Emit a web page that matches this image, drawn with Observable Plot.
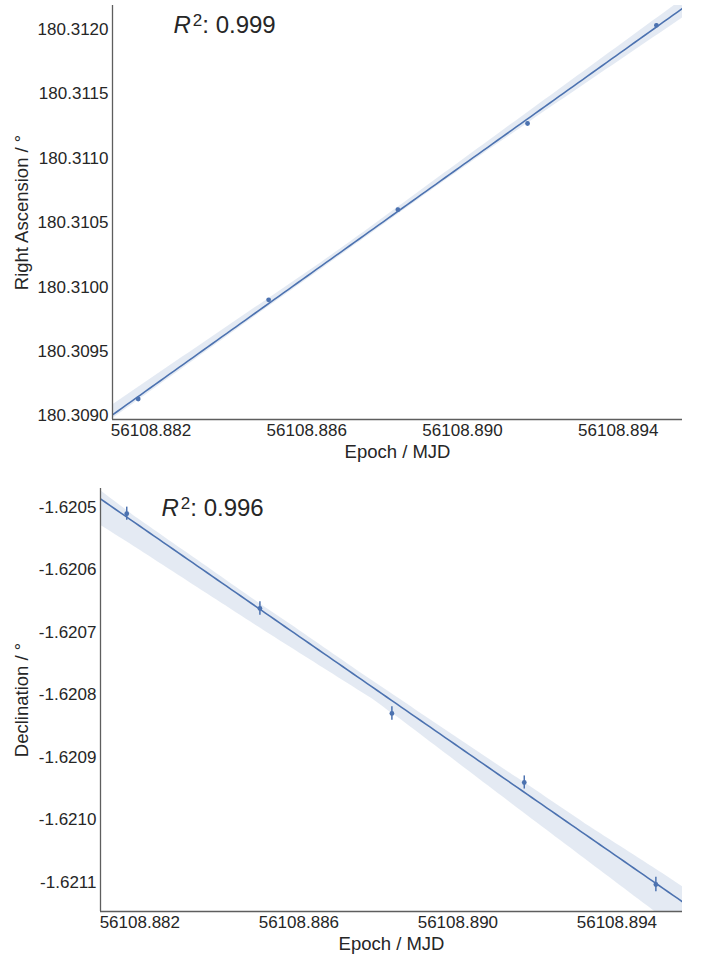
<!DOCTYPE html>
<html><head><meta charset="utf-8">
<script src="https://cdn.jsdelivr.net/npm/d3@7"></script>
<script src="https://cdn.jsdelivr.net/npm/@observablehq/plot@0.6"></script>
<style>
body{margin:0;background:#fff;}
#chart{width:703px;}
#chart svg{display:block;}
</style></head><body><div id="chart"></div>
<script>
// ---- data ----
const epochs = [56108.88167, 56108.88502, 56108.88834, 56108.89167, 56108.89498];
const raValues = [180.309132, 180.309902, 180.310602, 180.311271, 180.312033];
const raErrors = [0.0000105, 0.0000105, 0.0000105, 0.0000105, 0.0000105];
const decValues = [-1.6205100, -1.6206616, -1.6208296, -1.6209400, -1.6211032];
const decErrors = [0.0000105, 0.0000107, 0.0000107, 0.0000105, 0.0000115];
const epochTicks = [56108.882, 56108.886, 56108.890, 56108.894];
const epochDomain = [56108.88101, 56108.89565];
const raTicks = [180.3090, 180.3095, 180.3100, 180.3105, 180.3110, 180.3115, 180.3120];
const raDomain = [180.308973, 180.312187];
const decTicks = [-1.6211, -1.6210, -1.6209, -1.6208, -1.6207, -1.6206, -1.6205];
const decDomain = [-1.6211464, -1.6204697];
const r2Labels = ["0.999", "0.996"];
const xTitle = "Epoch / MJD";
const yTitles = ["Right Ascension / °", "Declination / °"];

const BLUE = "#4c72b0";
const INK = "#262626";
const SPINE = "#5e5e5e";
const FONT = "'Liberation Sans', Arial, Helvetica, sans-serif";

// regression fit and exhaustive bootstrap 95% band (as seaborn's regplot)
function fitLine(xs, ys, grid) {
  const x0 = xs[0], y0 = ys[0];
  const X = xs.map(x => x - x0), Y = ys.map(y => y - y0);
  const mx = d3.mean(X), my = d3.mean(Y);
  let sxx = 0, sxy = 0;
  X.forEach((x, i) => { sxx += (x - mx) ** 2; sxy += (x - mx) * (Y[i] - my); });
  const b = sxy / sxx;
  return grid.map(g => ({x: g, y: y0 + my + b * (g - x0 - mx)}));
}
function bootBand(xs, ys, grid) {
  const n = xs.length, x0 = xs[0], y0 = ys[0];
  const X = xs.map(x => x - x0), Y = ys.map(y => y - y0);
  const G = grid.map(g => g - x0);
  const total = n ** n;
  const preds = G.map(() => new Float64Array(total));
  const idx = new Array(n);
  for (let k = 0; k < total; k++) {
    let r = k, sx = 0, sy = 0;
    for (let i = 0; i < n; i++) { idx[i] = r % n; r = Math.floor(r / n); sx += X[idx[i]]; sy += Y[idx[i]]; }
    const mx = sx / n, my = sy / n;
    let sxx = 0, sxy = 0;
    for (let i = 0; i < n; i++) { const dx = X[idx[i]] - mx; sxx += dx * dx; sxy += dx * (Y[idx[i]] - my); }
    const b = sxx > 1e-14 ? sxy / sxx : 0;
    for (let j = 0; j < G.length; j++) preds[j][k] = my + b * (G[j] - mx);
  }
  return grid.map((g, j) => {
    const s = Array.from(preds[j]).sort((a, b) => a - b);
    return {x: g, lo: y0 + d3.quantileSorted(s, 0.025), hi: y0 + d3.quantileSorted(s, 0.975)};
  });
}

function r2Tspans(svg) {
  const ns = "http://www.w3.org/2000/svg";
  svg.querySelectorAll("text").forEach(t => {
    if (t.textContent.startsWith("R2:")) {
      const rest = t.textContent.slice(2);
      t.textContent = "";
      const a = document.createElementNS(ns, "tspan");
      a.setAttribute("font-style", "italic"); a.textContent = "R";
      const b = document.createElementNS(ns, "tspan");
      b.setAttribute("font-size", "17px"); b.setAttribute("dy", "-7"); b.setAttribute("dx", "2");
      b.textContent = "2";
      const c = document.createElementNS(ns, "tspan");
      c.setAttribute("dy", "7"); c.textContent = rest;
      t.append(a, b, c);
    }
  });
}

function panel({values, errors, yDomain, yTicks, yTitle, r2, height, marginTop, marginBottom, marginLeft}) {
  const pts = epochs.map((x, i) => ({x, y: values[i], e: errors[i]}));
  const grid = d3.range(0, 121).map(i => epochDomain[0] + i * (epochDomain[1] - epochDomain[0]) / 120);
  const band = bootBand(epochs, values, grid);
  const fit = fitLine(epochs, values, grid);
  const svg = Plot.plot({
    width: 703, height, marginTop, marginBottom, marginLeft, marginRight: 21,
    style: {fontFamily: FONT, color: INK, background: "#fff"},
    x: {domain: epochDomain, axis: null},
    y: {domain: yDomain, axis: null},
    marks: [
      Plot.areaY(band, {x: "x", y1: "lo", y2: "hi", fill: BLUE, fillOpacity: 0.15, clip: true}),
      Plot.line(fit, {x: "x", y: "y", stroke: BLUE, strokeWidth: 1.6, clip: true}),
      Plot.ruleX(pts, {x: "x", y1: d => d.y - d.e, y2: d => d.y + d.e, stroke: BLUE, strokeWidth: 1.5}),
      Plot.dot(pts, {x: "x", y: "y", r: 2.4, fill: BLUE}),
      Plot.ruleX([epochDomain[0]], {stroke: SPINE, strokeWidth: 1.3}),
      Plot.ruleY([yDomain[0]], {stroke: SPINE, strokeWidth: 1.3}),
      Plot.axisY({ticks: yTicks, tickFormat: d => d.toFixed(4), tickSize: 0, tickPadding: 4,
        fill: INK, fontSize: 17, label: null}),
      Plot.axisX({ticks: epochTicks, tickFormat: d => d.toFixed(3), tickSize: 0, tickPadding: 4,
        fill: INK, fontSize: 17, label: null}),
      Plot.text([yTitle], {frameAnchor: "left", text: d => d, rotate: -90, dx: -(marginLeft - 22),
        textAnchor: "middle", lineAnchor: "middle", fontSize: 18.5, fill: INK}),
      Plot.text([xTitle], {frameAnchor: "bottom", text: d => d, dy: 33, textAnchor: "middle",
        lineAnchor: "middle", fontSize: 18.5, fill: INK}),
      Plot.text([r2], {frameAnchor: "top-left", text: d => "R2: " + d, dx: 61, dy: 27,
        lineAnchor: "bottom", textAnchor: "start", fontSize: 24, fill: INK})
    ]
  });
  r2Tspans(svg);
  return svg;
}

const chart = document.getElementById("chart");
chart.append(panel({values: raValues, errors: raErrors, yDomain: raDomain, yTicks: raTicks,
  yTitle: yTitles[0], r2: r2Labels[0], height: 470, marginTop: 5, marginBottom: 51, marginLeft: 112}));
chart.append(panel({values: decValues, errors: decErrors, yDomain: decDomain, yTicks: decTicks,
  yTitle: yTitles[1], r2: r2Labels[1], height: 487, marginTop: 18, marginBottom: 46, marginLeft: 100}));
</script></body></html>
